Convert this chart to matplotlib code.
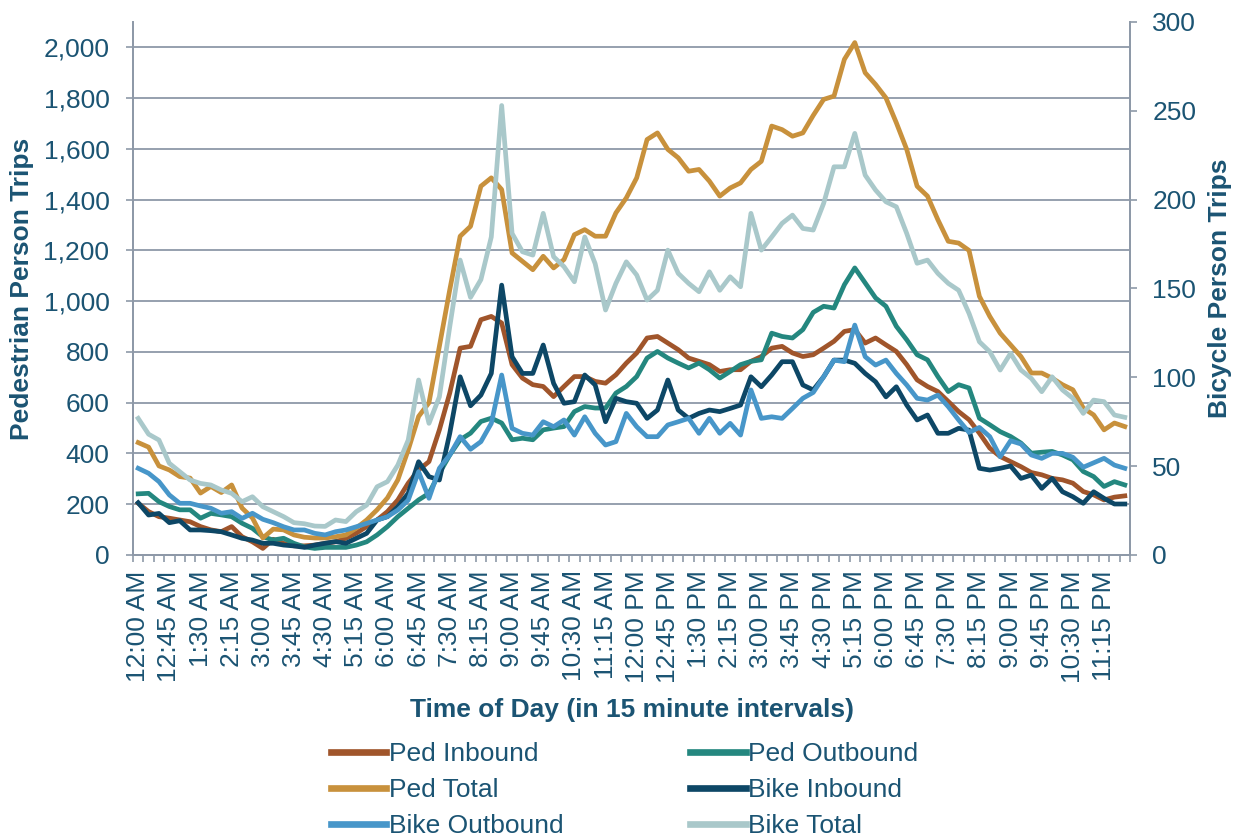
import numpy as np
import matplotlib
matplotlib.use("Agg")
import matplotlib.pyplot as plt

plt.rcParams['font.family'] = ['Liberation Sans', 'DejaVu Sans']

# 15 minute intervals over one day
times = []
for h in range(24):
    for m in (0, 15, 30, 45):
        hh = h % 12 if h % 12 else 12
        times.append("%d:%02d %s" % (hh, m, "AM" if h < 12 else "PM"))

tick_labels = times[::3]

ped_in = [204, 171, 151, 145, 138, 131, 112, 99, 92, 112, 72, 52, 26, 62, 46, 36,
          36, 39, 46, 52, 66, 86, 112, 138, 171, 217, 283, 335, 368, 493, 638, 815,
          822, 927, 940, 914, 750, 697, 671, 664, 624, 664, 703, 703, 684, 677, 710, 756,
          796, 855, 861, 835, 809, 776, 763, 750, 723, 730, 730, 763, 782, 815, 822, 796,
          782, 789, 815, 842, 881, 888, 835, 855, 828, 802, 750, 690, 664, 644, 605, 565,
          533, 480, 421, 388, 368, 348, 325, 316, 302, 296, 283, 250, 237, 217, 228, 233]

ped_out = [241, 243, 210, 191, 178, 178, 145, 164, 158, 151, 125, 105, 72, 59, 66, 46,
           32, 26, 30, 30, 30, 39, 52, 79, 112, 151, 184, 217, 243, 322, 394, 454,
           480, 526, 539, 520, 454, 460, 454, 493, 500, 506, 565, 585, 579, 579, 638, 664,
           703, 776, 802, 776, 756, 737, 756, 730, 697, 723, 750, 763, 769, 874, 861, 855,
           888, 956, 980, 973, 1065, 1131, 1072, 1013, 980, 901, 848, 789, 769, 703, 644, 671,
           658, 539, 513, 486, 467, 441, 401, 405, 408, 394, 375, 329, 309, 270, 289, 276]

ped_total = [443, 425, 351, 335, 309, 303, 244, 270, 246, 276, 185, 146, 67, 102, 99, 79,
             70, 67, 67, 72, 79, 106, 138, 178, 225, 296, 414, 546, 600, 822, 1045, 1256,
             1295, 1453, 1486, 1440, 1190, 1157, 1124, 1177, 1131, 1164, 1262, 1282, 1256, 1256, 1348, 1407,
             1486, 1637, 1663, 1598, 1565, 1512, 1519, 1473, 1414, 1446, 1466, 1519, 1551, 1690, 1676, 1650,
             1663, 1732, 1795, 1808, 1953, 2019, 1900, 1854, 1801, 1703, 1598, 1453, 1414, 1321, 1236, 1229,
             1200, 1019, 940, 874, 828, 782, 717, 717, 697, 671, 651, 579, 552, 493, 520, 506]

bike_in = [29.4, 22.5, 23.4, 18.2, 19.3, 14.1, 14.1, 13.7, 13.1, 11.3, 9.4, 8.4, 6.6, 6.6, 5.6, 5.1,
           4.3, 5.6, 6.6, 7.5, 6.6, 9.4, 12.2, 19.7, 21.6, 27.2, 34.7, 52.5, 44.1, 42.2, 68.5, 100.3,
           84, 90, 102.2, 151.9, 111.6, 102.2, 102.2, 118.2, 96.6, 85.4, 86.3, 101.3, 95.7, 75, 88.2, 86.3,
           85.4, 76.9, 81.6, 98.5, 81.6, 76.9, 79.7, 81.6, 80.7, 82.5, 84.4, 100.3, 94.7, 101.3, 108.8, 108.8,
           95.7, 92.9, 100.3, 109.7, 109.7, 107.9, 102.2, 97.5, 89, 94.7, 84.4, 76, 78.8, 68.5, 68.5, 71.3,
           70.3, 48.8, 47.8, 48.8, 50.1, 43.1, 45, 37.5, 43.1, 35.6, 32.8, 29.1, 35.6, 31.9, 28.7, 28.7]

bike_out = [48.8, 46, 41.3, 33.8, 29.1, 29.1, 27.6, 26.3, 23.5, 24.4, 20.6, 23.5, 20.1, 18.2, 15.9, 14.1,
            14.1, 12.2, 11.3, 13.1, 14.1, 15.9, 17.8, 19.7, 21.6, 25.3, 30.9, 46.9, 31.9, 48.8, 56.3, 66.6,
            59.5, 63.8, 74.1, 101.3, 71.3, 68.5, 67.5, 75, 72.2, 76, 67.5, 77.8, 68.5, 61.9, 63.8, 79.7,
            72.2, 66.6, 66.6, 73.2, 75, 76.9, 68.5, 76.9, 68.5, 74.1, 67.5, 92.9, 76.9, 77.8, 76.9, 82.5,
            88.2, 91.5, 100.3, 109.7, 108.8, 129.4, 111.6, 106.9, 109.7, 102.2, 95.7, 88.2, 87.2, 90, 83.5, 76,
            69, 71.8, 66.6, 55.3, 64.3, 62.5, 56.3, 54.4, 57.2, 57.2, 55, 49.4, 51.9, 54.4, 50.6, 48.8]

bike_total = [76.9, 68, 64.7, 51.6, 46.9, 42.2, 40.3, 39.4, 36.6, 34.7, 30, 32.8, 27.2, 24.4, 21.6, 18.2,
              17.6, 16.3, 16.1, 19.7, 18.8, 24.4, 28.1, 38.4, 41.3, 50.6, 64.7, 98.5, 74.1, 89, 128.5, 166,
              145, 155, 179, 253, 181, 170.7, 168.8, 192.3, 167.9, 162.3, 153.8, 179, 164, 137.9, 152.9, 165,
              157.6, 143.5, 149, 171.6, 158.5, 152.9, 148.2, 159.4, 149, 156.6, 151, 192.3, 171.6, 179, 186.7, 191.3,
              183.8, 182.9, 197.9, 218.5, 218.5, 237.3, 213.8, 205.4, 198.8, 196, 181, 164.2, 166, 158.5, 152.9, 149,
              136, 120, 114.4, 104.1, 113.5, 104.1, 99.4, 91.9, 100.3, 92.9, 88.2, 79.7, 87.2, 86.3, 78.8, 77.5]

txt = '#1B5473'
axc = '#8E99A8'
fs = 19
lw = 3.4

fig = plt.figure(figsize=(12.41, 8.4), dpi=100)
ax = fig.add_axes([133 / 1241, 285 / 840, 997 / 1241, 533 / 840])
ax2 = ax.twinx()

x = np.arange(len(times))
l1, = ax.plot(x, ped_in, color='#A0552B', lw=lw, label='Ped Inbound')
l2, = ax.plot(x, ped_out, color='#24877F', lw=lw, label='Ped Outbound')
l3, = ax.plot(x, ped_total, color='#C8913C', lw=lw, label='Ped Total')
l4, = ax2.plot(x, bike_in, color='#0D4766', lw=lw, label='Bike Inbound')
l5, = ax2.plot(x, bike_out, color='#4796C9', lw=lw, label='Bike Outbound')
l6, = ax2.plot(x, bike_total, color='#A9C8CA', lw=lw, label='Bike Total')

ax.set_xlim(-0.5, len(times) - 0.5)
ax.set_ylim(0, 2100)
ax2.set_ylim(0, 300)
ax.set_yticks(range(0, 2001, 200))
ax.set_yticklabels(["{:,}".format(v) for v in range(0, 2001, 200)])
ax2.set_yticks(range(0, 301, 50))

ax.set_xticks(x[::3])
ax.set_xticklabels(tick_labels, rotation=90)
ax.set_xticks(np.arange(-0.5, len(times), 1), minor=True)
ax.tick_params(axis='x', which='major', length=0, pad=11, labelsize=fs, labelcolor=txt)
ax.tick_params(axis='x', which='minor', length=5, width=1.2, color=axc, direction='out')
ax.tick_params(axis='y', length=5, width=1.2, color=axc, labelsize=fs, labelcolor=txt, pad=12)
ax2.tick_params(axis='y', length=5, width=1.2, color=axc, labelsize=fs, labelcolor=txt, pad=11)

ax.grid(axis='y', color=axc, lw=1.3)
ax.set_axisbelow(True)
for a in (ax, ax2):
    a.spines['top'].set_visible(False)
    for s in ('left', 'right', 'bottom'):
        a.spines[s].set_color(axc)
        a.spines[s].set_linewidth(1.3)

ax.set_ylabel('Pedestrian Person Trips', fontsize=fs, fontweight='bold', color=txt)
ax2.set_ylabel('Bicycle Person Trips', fontsize=fs, fontweight='bold', color=txt)
ax.yaxis.set_label_coords(-0.111, 0.5)
ax2.yaxis.set_label_coords(1.09, 0.5)
ax.yaxis.label.set_va('center')
ax2.yaxis.label.set_va('center')
ax.set_xlabel('Time of Day (in 15 minute intervals)', fontsize=fs, fontweight='bold', color=txt)
ax.xaxis.set_label_coords(0.5, -0.291)
ax.xaxis.label.set_va('center')

handles = [l1, l3, l5, l2, l4, l6]
leg = fig.legend(handles, [h.get_label() for h in handles], ncol=2, frameon=False,
                 loc='upper left', bbox_to_anchor=(331 / 1241, 1 - 742 / 840),
                 borderaxespad=0, borderpad=0, fontsize=fs, handlelength=2.1,
                 handletextpad=0.1, columnspacing=4.8, labelspacing=0.45)
for t in leg.get_texts():
    t.set_color(txt)
for ln in leg.get_lines():
    ln.set_linewidth(4.8)

fig.savefig('out.png', dpi=100)
